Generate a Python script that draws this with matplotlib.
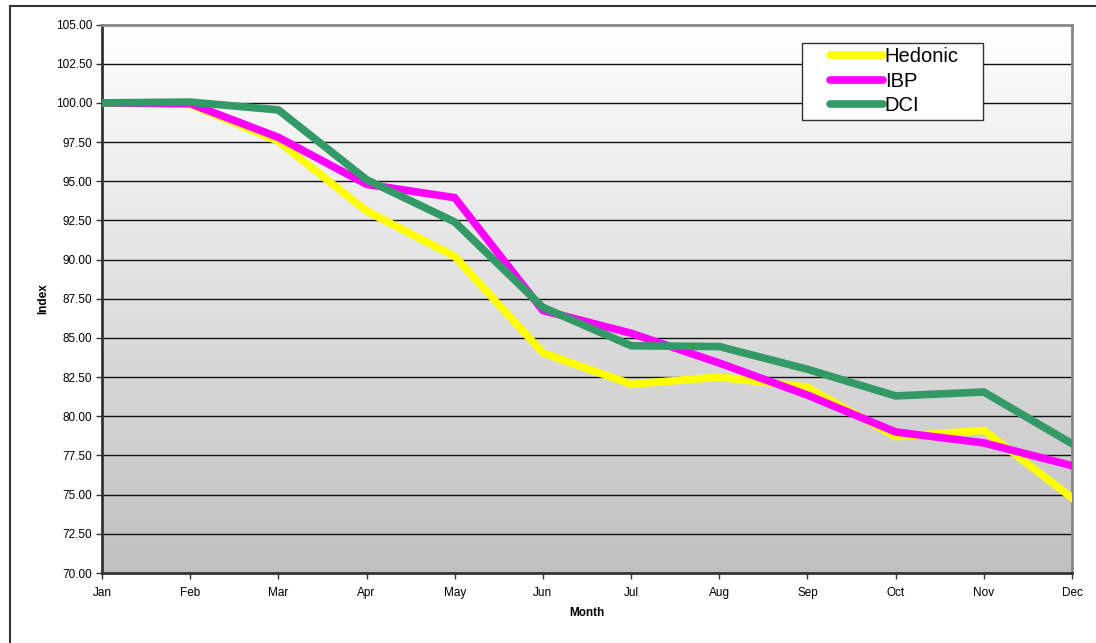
import numpy as np
import matplotlib
matplotlib.use('Agg')
import matplotlib.pyplot as plt
from matplotlib.patches import Rectangle

months = ['Jan', 'Feb', 'Mar', 'Apr', 'May', 'Jun', 'Jul', 'Aug', 'Sep', 'Oct', 'Nov', 'Dec']
hedonic = [100.0, 99.9, 97.55, 93.1, 90.2, 84.05, 82.05, 82.5, 81.85, 78.7, 79.1, 74.8]
ibp = [100.0, 99.95, 97.8, 94.8, 93.95, 86.75, 85.3, 83.4, 81.35, 79.0, 78.3, 76.85]
dci = [100.0, 100.05, 99.55, 95.1, 92.4, 86.95, 84.5, 84.45, 83.0, 81.3, 81.55, 78.25]
yticks = np.arange(70, 105.01, 2.5)

plt.rcParams['font.family'] = ['Liberation Sans', 'DejaVu Sans']

fig = plt.figure(figsize=(10.96, 6.43), dpi=100)
# outer chart border
fig.patches.append(Rectangle((10 / 1096, -0.05), 1.2, 1 - 6 / 643 + 0.05,
                             transform=fig.transFigure, fill=False,
                             edgecolor='#333333', linewidth=1.5))

ax = fig.add_axes([102 / 1096, 1 - 573 / 643, 970 / 1096, 548.5 / 643])
x = np.arange(len(months))

# gradient background, white at top to grey at bottom
grad = np.linspace(0, 1, 256).reshape(-1, 1)
ax.imshow(grad, extent=(0, len(months) - 1, 70, 105), aspect='auto',
          cmap=matplotlib.colors.LinearSegmentedColormap.from_list('g', ['#ffffff', '#c0c0c0']),
          origin='upper', zorder=0)

for yv in yticks[1:-1]:
    ax.axhline(yv, color='#111111', linewidth=1, zorder=1)

ax.plot(x, hedonic, color='#ffff00', linewidth=5.5, label='Hedonic', zorder=3)
ax.plot(x, ibp, color='#ff00ff', linewidth=5.5, label='IBP', zorder=4)
ax.plot(x, dci, color='#339966', linewidth=5.5, label='DCI', zorder=5)

ax.set_xlim(0, len(months) - 1)
ax.set_ylim(70, 105)
ax.set_xticks(x)
ax.set_xticklabels(months)
ax.set_yticks(yticks)
ax.set_yticklabels(['%.2f' % v for v in yticks])
ax.tick_params(axis='both', labelsize=8.5, direction='out', length=4, width=1,
               color='#333333', pad=3)
ax.tick_params(axis='x', pad=6)

ax.spines['left'].set_color('#333333')
ax.spines['left'].set_linewidth(2)
ax.spines['bottom'].set_color('#333333')
ax.spines['bottom'].set_linewidth(2)
ax.spines['top'].set_color('#888888')
ax.spines['top'].set_linewidth(2)
ax.spines['right'].set_color('#888888')
ax.spines['right'].set_linewidth(2)

ax.set_xlabel('Month', fontsize=8.5, fontweight='bold', labelpad=6)
ax.set_ylabel('Index', fontsize=8.5, fontweight='bold', labelpad=5)

# legend box drawn separately so its padding matches the original
ax.add_patch(Rectangle((0.722, 0.826), 0.1866, 0.1397, transform=ax.transAxes,
                       facecolor='white', edgecolor='#333333', linewidth=1,
                       zorder=9))
leg = ax.legend(loc='upper left', bbox_to_anchor=(0.751, 0.959), fontsize=14.5,
                frameon=False, handlelength=2.6, handletextpad=0.1,
                labelspacing=0.28, borderpad=0, borderaxespad=0)
for h in leg.get_lines():
    h.set_solid_capstyle('round')
leg.set_zorder(10)

fig.savefig('out.png', dpi=100)
